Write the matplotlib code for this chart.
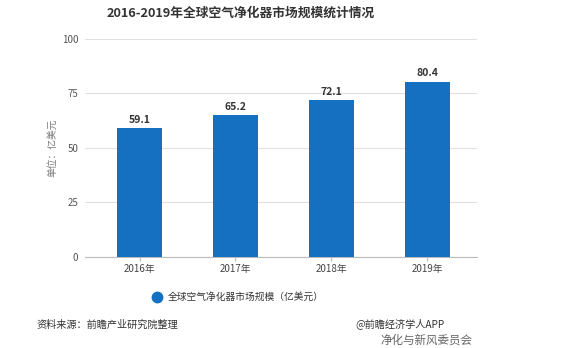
import matplotlib
matplotlib.use("Agg")
import matplotlib.pyplot as plt
from matplotlib.lines import Line2D

plt.rcParams['font.family'] = ['Noto Sans CJK SC', 'DejaVu Sans']

years = ['2016年', '2017年', '2018年', '2019年']
values = [59.1, 65.2, 72.1, 80.4]
yticks = [0, 25, 50, 75, 100]

fig = plt.figure(figsize=(5.67, 3.48), dpi=100)
ax = fig.add_axes([0.15, 0.2615, 0.691, 0.6265])

bar_color = '#1570c2'
x = list(range(len(years)))
ax.bar(x, values, width=0.47, color=bar_color, zorder=3)
for xi, v in zip(x, values):
    ax.text(xi, v + 1.5, f'{v}', ha='center', va='bottom', fontsize=7.5,
            fontweight='bold', color='#333333')

ax.set_xlim(-0.57, 3.52)
ax.set_ylim(0, 100)
ax.set_yticks(yticks)
ax.set_xticks(x)
ax.set_xticklabels(years)
ax.grid(axis='y', color='#e0e0e0', linewidth=0.8, zorder=0)
for s in ['top', 'right', 'left']:
    ax.spines[s].set_visible(False)
ax.spines['bottom'].set_color('#bbbbbb')
ax.tick_params(axis='y', length=0, labelsize=7, labelcolor='#555555', pad=5)
ax.tick_params(axis='x', length=3, color='#bbbbbb', labelsize=7, labelcolor='#444444', pad=2)
ax.set_ylabel('单位：亿美元', fontsize=7, color='#777777', labelpad=3)

fig.text(0.424, 0.962, '2016-2019年全球空气净化器市场规模统计情况', ha='center', va='center',
         fontsize=9.2, fontweight='bold', color='#333333')

# legend
fig.add_artist(Line2D([157/567], [1-297/348], transform=fig.transFigure,
                      marker='o', markersize=7.5, color=bar_color, linestyle='none'))
fig.text(168/567, 1-297/348, '全球空气净化器市场规模（亿美元）', ha='left', va='center',
         fontsize=7, color='#333333')

fig.text(36/567, 1-325/348, '资料来源：前瞻产业研究院整理', ha='left', va='center',
         fontsize=7.3, color='#333333')
fig.text(355/567, 1-324/348, '@前瞻经济学人APP', ha='left', va='center',
         fontsize=7.3, color='#333333')
fig.text(380/567, 1-340/348, '净化与新风委员会', ha='left', va='center',
         fontsize=8.3, color='#666666')

fig.savefig('out.png', dpi=100)
